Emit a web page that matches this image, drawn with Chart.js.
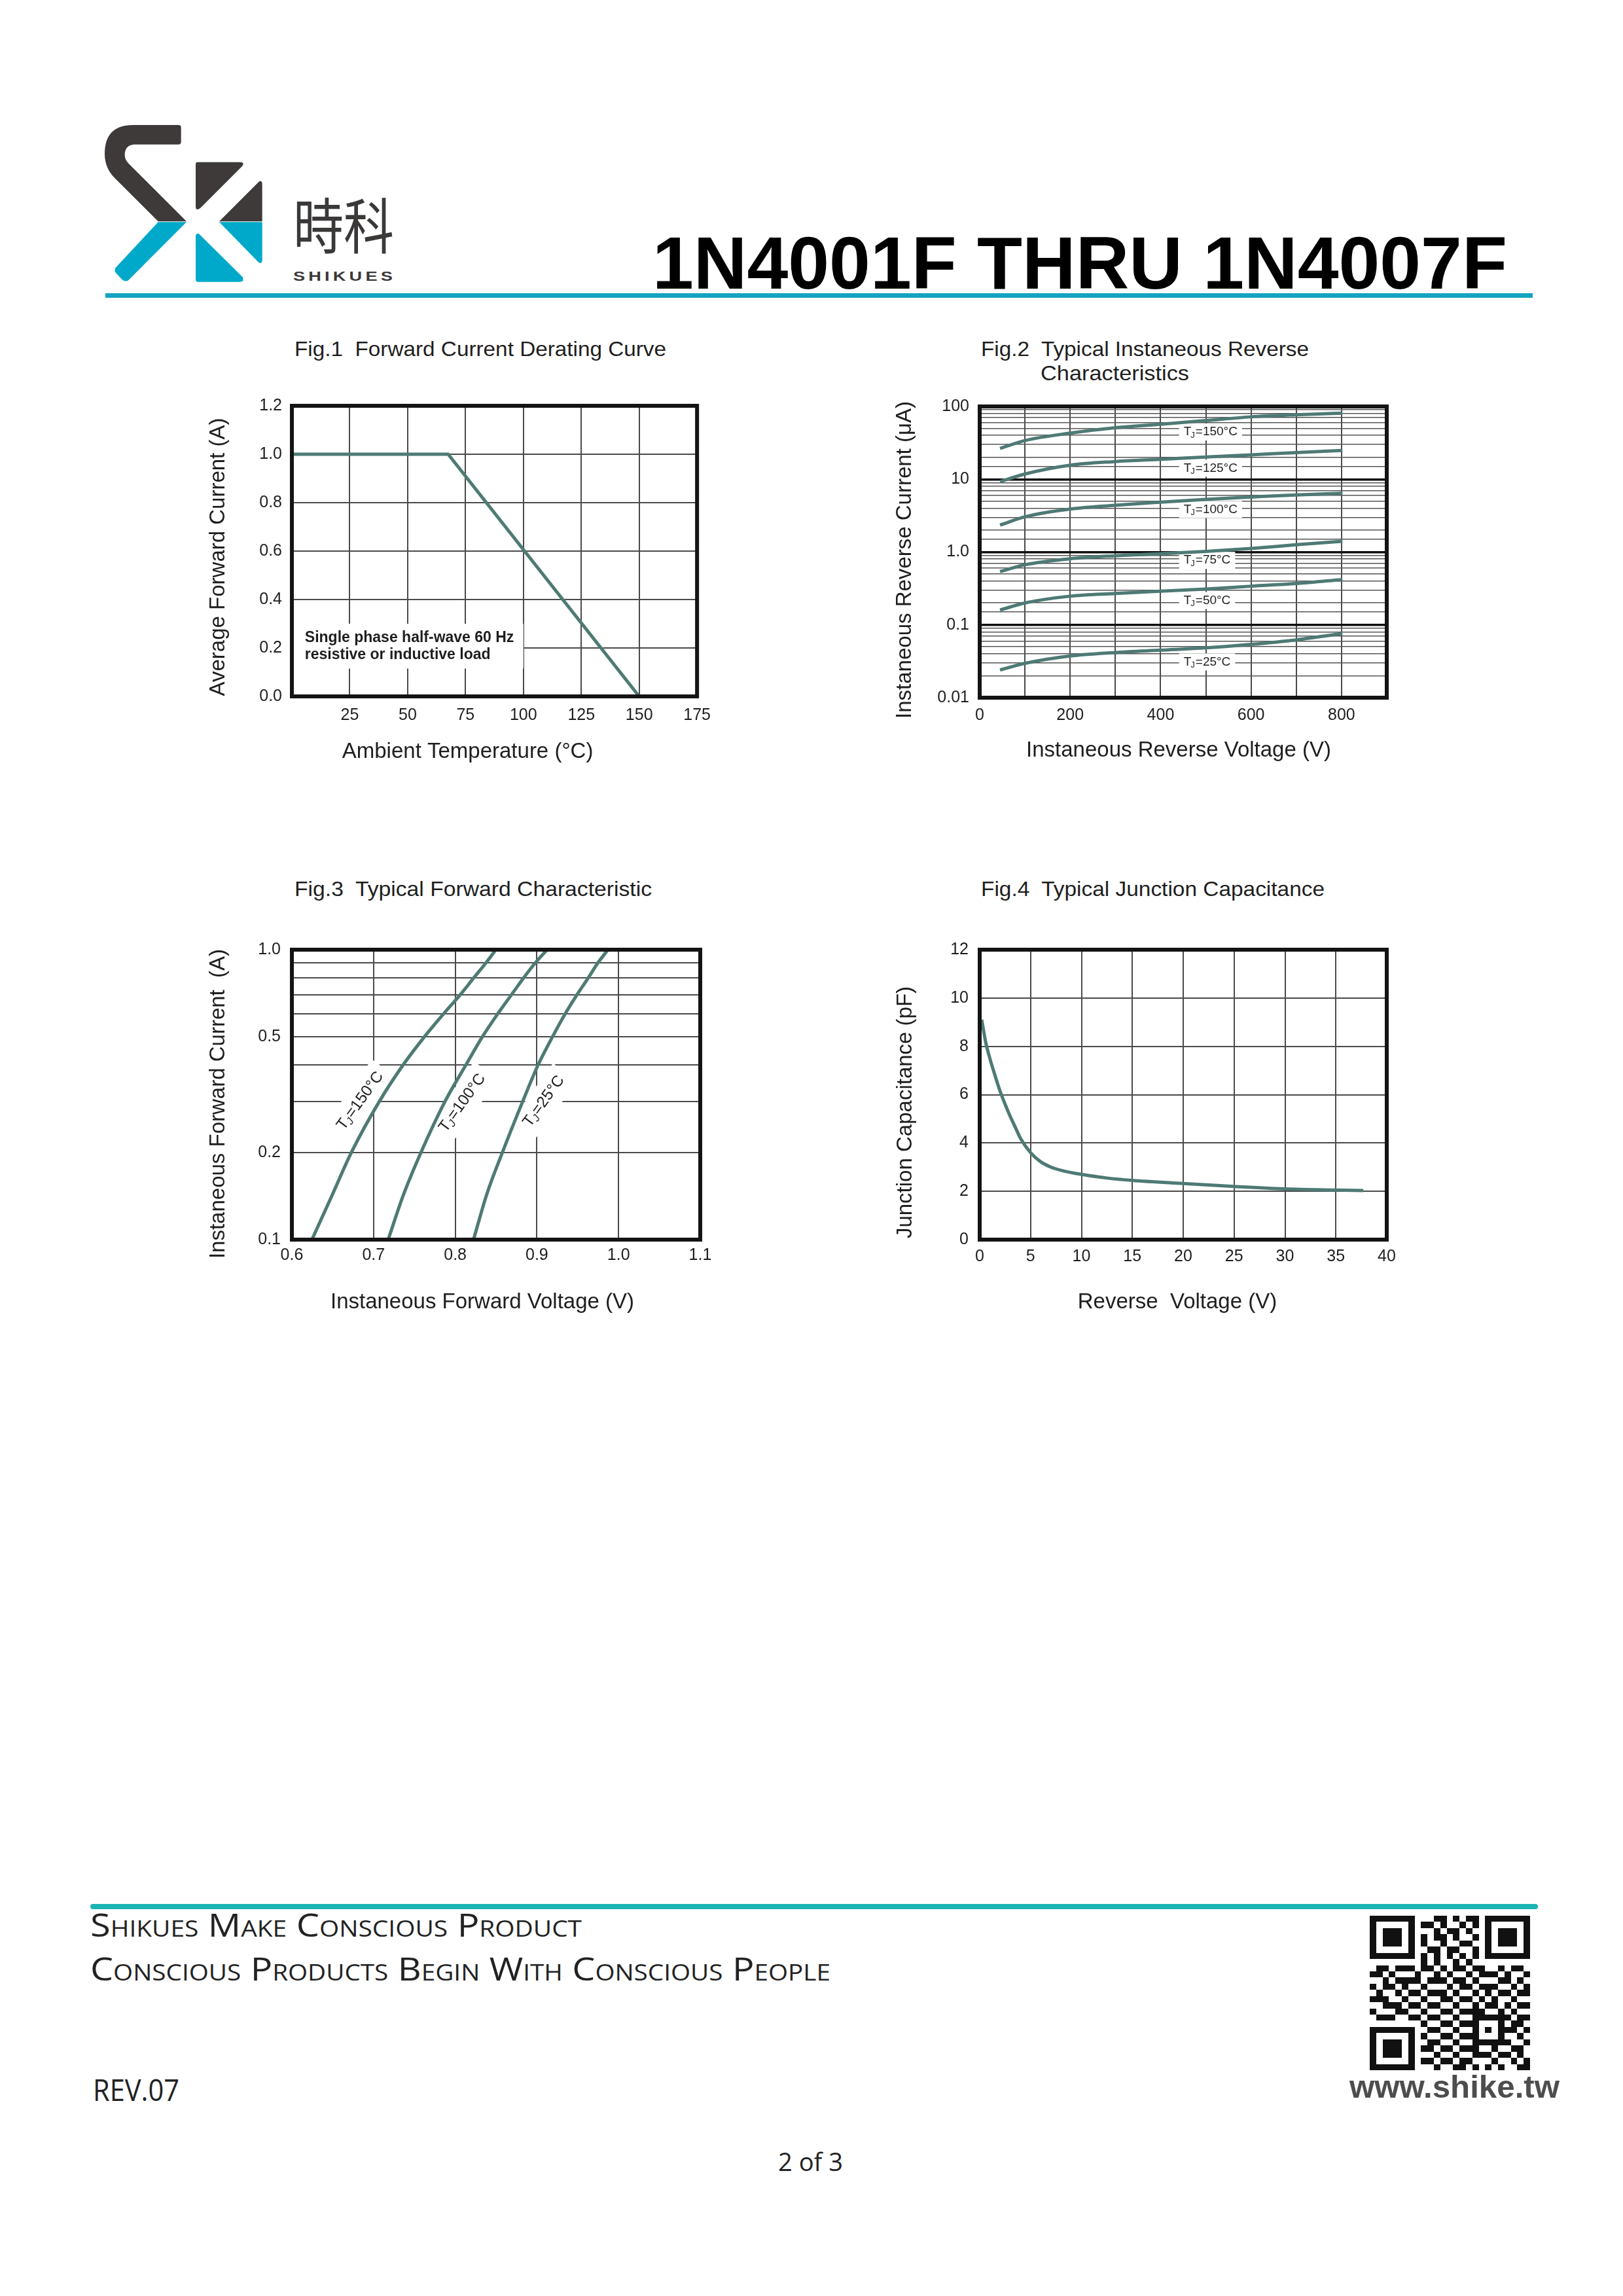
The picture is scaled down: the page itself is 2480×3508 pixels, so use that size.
<!DOCTYPE html>
<html>
<head>
<meta charset="utf-8">
<title>1N4001F THRU 1N4007F</title>
<script src="https://cdn.jsdelivr.net/npm/chart.js@4.4.1/dist/chart.umd.min.js"></script>
<style>
  html, body { margin: 0; padding: 0; background: #fff; }
  body { width: 2480px; height: 3508px; position: relative; overflow: hidden;
         font-family: 'Liberation Sans', Arial, sans-serif; color: #1e1e1e; }
  .txt { position: absolute; white-space: pre; line-height: 1; transform-origin: 0 0; }
  .rule { position: absolute; }
  canvas { position: absolute; }
  .ftxt { font-family: 'Open Sans', sans-serif; font-variant: small-caps; color: #222; }
</style>
</head>
<body>

<!-- header -->
<svg style="position:absolute;left:150px;top:180px" width="480" height="260" viewBox="0 0 1440 780">
  <path fill="#3e3a3a" d="M160 33 L368 33 Q380 33 380 45 L380 110 Q380 122 368 122 L165 122 Q125 125 122 165 Q120 190 140 210 L405 475 L275 475 L75 275 Q30 230 30 165 Q30 33 160 33 Z"/>
  <path fill="#00a9ca" d="M275 478 L405 478 L140 743 Q125 755 110 742 L82 712 Q70 698 82 685 Z"/>
  <path fill="#3e3a3a" d="M455 203 L655 203 Q672 206 660 222 L468 414 Q447 430 447 405 L447 212 Q447 203 455 203 Z"/>
  <path fill="#3e3a3a" d="M745 290 Q752 292 752 305 L752 475 L555 475 L735 295 Q740 289 745 290 Z"/>
  <path fill="#00a9ca" d="M555 478 L752 478 L752 655 Q750 672 735 662 Z"/>
  <path fill="#00a9ca" d="M462 532 L662 730 Q672 752 650 752 L458 752 Q447 752 447 740 L447 545 Q448 525 462 532 Z"/>
</svg>
<div class="txt" data-w="154" style="left:448px;top:273px;font:400 92px 'Noto Sans CJK SC';color:#3b3838">時科</div>
<div class="txt" data-w="157" style="left:448px;top:410px;font:700 21px 'Liberation Sans';letter-spacing:4px;color:#3b3838">SHIKUES</div>
<div class="txt" data-w="1306" style="left:997px;top:337px;font:700 113px 'Liberation Sans';color:#000">1N4001F THRU 1N4007F</div>
<div class="rule" style="left:161px;top:448px;width:2181px;height:7px;background:#14a3c2"></div>

<!-- figure titles -->
<div class="txt" data-w="568" style="left:450px;top:517px;font-size:32px">Fig.1  Forward Current Derating Curve</div>
<div class="txt" data-w="501" style="left:1499px;top:517px;font-size:32px">Fig.2  Typical Instaneous Reverse</div>
<div class="txt" data-w="227" style="left:1590px;top:554px;font-size:32px">Characteristics</div>
<div class="txt" data-w="546" style="left:450px;top:1342px;font-size:32px">Fig.3  Typical Forward Characteristic</div>
<div class="txt" data-w="525" style="left:1499px;top:1342px;font-size:32px">Fig.4  Typical Junction Capacitance</div>

<canvas id="fig1" width="800" height="620" style="left:300px;top:590px"></canvas>
<canvas id="fig2" width="800" height="620" style="left:1350px;top:590px"></canvas>
<canvas id="fig3" width="800" height="620" style="left:300px;top:1419px"></canvas>
<canvas id="fig4" width="800" height="620" style="left:1350px;top:1419px"></canvas>

<!-- footer -->
<div class="rule" style="left:138px;top:2909px;width:2212px;height:8px;background:#1bb3b3;border-radius:4px"></div>
<div class="txt ftxt" data-w="751" style="left:138px;top:2916px;font-size:49px">Shikues Make Conscious Product</div>
<div class="txt ftxt" data-w="1131" style="left:138px;top:2983px;font-size:49px">Conscious Products Begin With Conscious People</div>
<div class="txt" data-w="132" style="left:142px;top:3162px;font:400 45px 'Open Sans';color:#222">REV.07</div>
<div class="txt" data-w="99" style="left:1189px;top:3275px;font:400 39px 'Open Sans';color:#222">2 of 3</div>
<canvas id="qr" width="245" height="236" style="left:2093px;top:2927px"></canvas>
<div class="txt" data-w="321" style="left:2062px;top:3161px;font:700 48px 'Liberation Sans';color:#4d4d4d">www.shike.tw</div>

<script>
// ---------- Fig.1 Forward Current Derating Curve ----------
const deratingTemp = [0, 67.5, 150];
const deratingCurrent = [1.0, 1.0, 0.0];
const fig1XTicks = [0, 25, 50, 75, 100, 125, 150, 175];
const fig1XLabels = ['', '25', '50', '75', '100', '125', '150', '175'];
const fig1YTicks = [0, 0.2, 0.4, 0.6, 0.8, 1.0, 1.2];
const fig1YLabels = ['0.0', '0.2', '0.4', '0.6', '0.8', '1.0', '1.2'];

// ---------- Fig.2 Typical Instaneous Reverse Characteristics ----------
const reverseVoltage = [45, 100, 200, 300, 400, 500, 600, 700, 802];
const ir150 = [26.5, 34, 43, 51, 57, 64, 72, 77, 81];
const ir125 = [9.3, 11.8, 15.6, 17.5, 18.8, 20.2, 21.6, 23.3, 24.8];
const ir100 = [2.35, 3.05, 3.9, 4.4, 4.85, 5.3, 5.7, 6.1, 6.4];
const ir75 = [0.54, 0.67, 0.81, 0.89, 0.95, 1.02, 1.12, 1.26, 1.41];
const ir50 = [0.16, 0.20, 0.248, 0.27, 0.29, 0.31, 0.34, 0.37, 0.42];
const ir25 = [0.024, 0.0296, 0.0374, 0.0418, 0.045, 0.0484, 0.054, 0.0622, 0.076];
const reverseTemps = ['150', '125', '100', '75', '50', '25'];
const fig2XTicks = [0, 100, 200, 300, 400, 500, 600, 700, 800, 900];
const fig2XLabels = ['0', '', '200', '', '400', '', '600', '', '800', ''];
const fig2YMajor = [0.01, 0.1, 1, 10, 100];
const fig2YLabels = ['0.01', '0.1', '1.0', '10', '100'];

// ---------- Fig.3 Typical Forward Characteristic ----------
const forwardCurrent = [0.1, 0.143, 0.2, 0.3, 0.4, 0.5, 0.6, 0.7, 0.8, 0.9, 1.0];
const vf150 = [0.6246, 0.6496, 0.6729, 0.7072, 0.7361, 0.7621, 0.7855, 0.8063, 0.8228, 0.8376, 0.8498];
const vf100 = [0.7179, 0.7367, 0.7581, 0.7876, 0.813, 0.8331, 0.8519, 0.869, 0.8838, 0.898, 0.9125];
const vf25 = [0.8224, 0.8385, 0.8578, 0.8827, 0.9014, 0.919, 0.9345, 0.9492, 0.963, 0.9746, 0.9871];
const forwardTemps = ['150', '100', '25'];
const fig3XTicks = [0.6, 0.7, 0.8, 0.9, 1.0, 1.1];
const fig3XLabels = ['0.6', '0.7', '0.8', '0.9', '1.0', '1.1'];
const fig3YTicks = [0.1, 0.2, 0.3, 0.4, 0.5, 0.6, 0.7, 0.8, 0.9, 1.0];
const fig3YLabels = ['0.1', '0.2', '', '', '0.5', '', '', '', '', '1.0'];

// ---------- Fig.4 Typical Junction Capacitance ----------
const capVoltage = [0.2, 0.6, 1.0, 1.5, 2, 2.5, 3, 3.5, 4, 5, 6, 7, 8, 10, 12.5, 15, 20, 25, 30, 35, 37.7];
const capValue = [9.1, 8.15, 7.5, 6.8, 6.15, 5.6, 5.1, 4.65, 4.2, 3.6, 3.22, 3.0, 2.87, 2.7, 2.55, 2.45, 2.32, 2.2, 2.1, 2.05, 2.03];
const fig4XTicks = [0, 5, 10, 15, 20, 25, 30, 35, 40];
const fig4XLabels = ['0', '5', '10', '15', '20', '25', '30', '35', '40'];
const fig4YTicks = [0, 2, 4, 6, 8, 10, 12];
const fig4YLabels = ['0', '2', '4', '6', '8', '10', '12'];

// ---------- styling ----------
const INK = '#1e1e1e';
const GRID = '#4a4a4a';
const CURVE = '#4e7a74';
const FONT = "'Liberation Sans', Arial, sans-serif";
Chart.defaults.font.family = FONT;
Chart.defaults.color = INK;

const pts = (xs, ys) => xs.map((x, i) => ({ x, y: ys[i] }));
const curve = (data, smooth) => ({
  data, showLine: true, borderColor: CURVE, borderWidth: 5, pointRadius: 0,
  tension: 0, cubicInterpolationMode: smooth ? 'monotone' : 'default', fill: false
});
const sameValue = (a, b) => Math.abs(a / b - 1) < 1e-6;
const logLabel = (major, labels) => v => {
  const i = major.findIndex(m => sameValue(v, m));
  return i < 0 ? '' : labels[i];
};

function axis(o) {
  return {
    type: o.type || 'linear',
    min: o.min, max: o.max,
    afterFit: s => { if (s.isHorizontal()) s.height = o.size; else s.width = o.size; },
    afterBuildTicks: o.ticks ? s => { s.ticks = o.ticks.map(v => ({ value: v })); } : undefined,
    ticks: { autoSkip: false, maxRotation: 0, minRotation: 0, padding: o.pad,
             font: { size: 25 }, color: INK, callback: o.label },
    grid: { drawTicks: false, color: o.gridColor || GRID, lineWidth: o.gridWidth || 2 },
    border: { display: false },
    title: { display: false }
  };
}

// black plot frame
const frame = {
  id: 'frame',
  afterDatasetsDraw(chart) {
    const { ctx, chartArea: a } = chart;
    ctx.save();
    ctx.strokeStyle = '#141414';
    ctx.lineWidth = 6;
    ctx.strokeRect(a.left, a.top, a.right - a.left, a.bottom - a.top);
    ctx.restore();
  }
};

// axis titles, placed as in the datasheet (slightly off centre)
const axisTitles = {
  id: 'axisTitles',
  afterDraw(chart, args, opts) {
    const { ctx, chartArea: a } = chart;
    ctx.save();
    ctx.font = `33px ${FONT}`;
    ctx.fillStyle = INK;
    ctx.textAlign = 'center';
    ctx.textBaseline = 'middle';
    ctx.fillText(opts.x.text, (a.left + a.right) / 2 + opts.x.dx, opts.x.y);
    ctx.translate(opts.y.x, (a.top + a.bottom) / 2 + opts.y.dy);
    ctx.rotate(-Math.PI / 2);
    ctx.fillText(opts.y.text, 0, 0);
    ctx.restore();
  }
};

// "T" with subscript J, then "=xx°C"; returns width
function tjLabel(ctx, temp, size, italicJ, draw, x, y) {
  const main = `${size}px ${FONT}`;
  const sub = `${italicJ ? 'italic ' : ''}${Math.round(size * 0.68)}px ${FONT}`;
  ctx.font = main;
  const wT = ctx.measureText('T').width;
  const rest = '=' + temp + '°C';
  const wR = ctx.measureText(rest).width;
  ctx.font = sub;
  const wJ = ctx.measureText('J').width;
  const total = wT + wJ + wR;
  if (draw) {
    ctx.textBaseline = 'middle';
    ctx.textAlign = 'left';
    ctx.font = main;
    ctx.fillText('T', x, y);
    ctx.font = sub;
    ctx.fillText('J', x + wT - 1, y + size * 0.26);
    ctx.font = main;
    ctx.fillText(rest, x + wT + wJ, y);
  }
  return total;
}

function makeChart(id, datasets, x, y, plugins, extra) {
  return new Chart(document.getElementById(id), {
    type: 'scatter',
    data: { datasets },
    options: {
      responsive: false,
      animation: false,
      layout: { padding: extra.padding },
      plugins: { legend: { display: false }, tooltip: { enabled: false }, axisTitles: extra.titles },
      scales: { x, y }
    },
    plugins: [frame, axisTitles].concat(plugins)
  });
}

// ---------- Fig.1 ----------
const fig1Note = {
  id: 'note',
  beforeDatasetsDraw(chart) {
    const { ctx, scales: { x, y } } = chart;
    ctx.save();
    ctx.fillStyle = '#fff';
    const l = x.getPixelForValue(0), r = x.getPixelForValue(100);
    const t = y.getPixelForValue(0.30), b = y.getPixelForValue(0.115);
    ctx.fillRect(l, t, r - l, b - t);
    ctx.fillStyle = INK;
    ctx.font = `bold 23px ${FONT}`;
    ctx.textBaseline = 'middle';
    ctx.fillText('Single phase half-wave 60 Hz', x.getPixelForValue(5.6), y.getPixelForValue(0.241));
    ctx.fillText('resistive or inductive load', x.getPixelForValue(5.6), y.getPixelForValue(0.171));
    ctx.restore();
  }
};
makeChart('fig1',
  [curve(pts(deratingTemp, deratingCurrent), false)],
  axis({ min: 0, max: 175, ticks: fig1XTicks, label: (v, i) => fig1XLabels[i], size: 146, pad: 14 }),
  axis({ min: 0, max: 1.2, ticks: fig1YTicks, label: (v, i) => fig1YLabels[i], size: 146, pad: 15 }),
  [fig1Note],
  { padding: { left: 0, top: 28, right: 30, bottom: 0 },
    titles: { x: { text: 'Ambient Temperature (°C)', dx: -41, y: 559 },
              y: { text: 'Average Forward Current (A)', x: 34, dy: 9 } } });

// ---------- Fig.2 ----------
const fig2LabelX = 451;
const fig2LabelY = [44.6, 14.2, 3.85, 0.77, 0.216, 0.031];
const fig2Labels = {
  id: 'tjLabels',
  beforeDatasetsDraw(chart) {
    const { ctx, scales: { x, y } } = chart;
    ctx.save();
    reverseTemps.forEach((t, i) => {
      const px = x.getPixelForValue(fig2LabelX), py = y.getPixelForValue(fig2LabelY[i]);
      const w = tjLabel(ctx, t, 19, false, false);
      ctx.fillStyle = '#fff';
      ctx.fillRect(px - 7, py - 13, w + 14, 26);
      ctx.fillStyle = INK;
      tjLabel(ctx, t, 19, false, true, px, py);
    });
    ctx.restore();
  }
};
const irSeries = [ir150, ir125, ir100, ir75, ir50, ir25];
const isDecade = c => c.tick && fig2YMajor.some(m => sameValue(c.tick.value, m));
makeChart('fig2',
  irSeries.map(s => curve(pts(reverseVoltage, s), true)),
  axis({ min: 0, max: 900, ticks: fig2XTicks, label: (v, i) => fig2XLabels[i], size: 144, pad: 12 }),
  axis({ type: 'logarithmic', min: 0.01, max: 100, label: logLabel(fig2YMajor, fig2YLabels), size: 147, pad: 16,
         gridColor: c => isDecade(c) ? '#111' : '#555',
         gridWidth: c => isDecade(c) ? 3.5 : 1.6 }),
  [fig2Labels],
  { padding: { left: 0, top: 28, right: 31, bottom: 0 },
    titles: { x: { text: 'Instaneous Reverse Voltage (V)', dx: -7, y: 557 },
              y: { text: 'Instaneous Reverse Current (μA)', x: 33, dy: 12 } } });

// ---------- Fig.3 ----------
const fig3LabelPos = [[0.6838, 0.301], [0.8088, 0.296], [0.9086, 0.300]];
const fig3Labels = {
  id: 'tjRotated',
  beforeDatasetsDraw(chart) {
    const { ctx, scales: { x, y } } = chart;
    ctx.save();
    forwardTemps.forEach((t, i) => {
      const px = x.getPixelForValue(fig3LabelPos[i][0]), py = y.getPixelForValue(fig3LabelPos[i][1]);
      const w = tjLabel(ctx, t, 24, true, false);
      ctx.save();
      ctx.translate(px, py);
      ctx.rotate(-54 * Math.PI / 180);
      ctx.fillStyle = '#fff';
      ctx.fillRect(-w / 2 - 10, -23, w + 20, 46);
      ctx.fillStyle = INK;
      tjLabel(ctx, t, 24, true, true, -w / 2, 0);
      ctx.restore();
    });
    ctx.restore();
  }
};
makeChart('fig3',
  [vf150, vf100, vf25].map(s => curve(pts(s, forwardCurrent), true)),
  axis({ min: 0.6, max: 1.1, ticks: fig3XTicks, label: (v, i) => fig3XLabels[i], size: 145, pad: 9 }),
  axis({ type: 'logarithmic', min: 0.1, max: 1.0, ticks: fig3YTicks, label: (v, i) => fig3YLabels[i], size: 146, pad: 17 }),
  [fig3Labels],
  { padding: { left: 0, top: 28, right: 30, bottom: 0 },
    titles: { x: { text: 'Instaneous Forward Voltage (V)', dx: -21, y: 571 },
              y: { text: 'Instaneous Forward Current  (A)', x: 34, dy: 14 } } });

// ---------- Fig.4 ----------
makeChart('fig4',
  [curve(pts(capVoltage, capValue), true)],
  axis({ min: 0, max: 40, ticks: fig4XTicks, label: (v, i) => fig4XLabels[i], size: 145, pad: 11 }),
  axis({ min: 0, max: 12, ticks: fig4YTicks, label: (v, i) => fig4YLabels[i], size: 147, pad: 17 }),
  [],
  { padding: { left: 0, top: 28, right: 31, bottom: 0 },
    titles: { x: { text: 'Reverse  Voltage (V)', dx: -9, y: 571 },
              y: { text: 'Junction Capacitance (pF)', x: 34, dy: 27 } } });

// ---------- QR mark ----------
const qrRows = [
  '0010110100110101100101101', '1101001011010010111010010', '0110101100101101001011001',
  '1011010010110100110100110', '0100111010010011011010101', '1110010101101100100101010',
  '0011101001011010110010111', '1001010110100101001101000', '0110110011010110110010110',
  '1101001100101001011101001', '0010110101110110100011010', '1011011010001011011100101',
  '0100100101110100101011011', '1110011010011011010100100', '0011100101100100101101011',
  '1000111010011011110010100', '0111000101100100001101011', '1100110010011011110010110',
  '0011001101100100011001101', '1010110010011011100110010', '0101001101100100011011001',
  '1010110011011011100100110', '0101101100100100111011010', '1010010011011011000100101',
  '0110101100100110101010011'
];
(function drawQr() {
  const cv = document.getElementById('qr');
  const c = cv.getContext('2d');
  const n = qrRows.length;
  const m = qrRows.map(r => r.split('').map(Number));
  const finder = (r0, c0) => {
    for (let r = -1; r <= 7; r++) for (let k = -1; k <= 7; k++) {
      const rr = r0 + r, cc = c0 + k;
      if (rr < 0 || cc < 0 || rr >= n || cc >= n) continue;
      const ring = Math.max(Math.abs(r - 3), Math.abs(k - 3));
      m[rr][cc] = (ring === 4 || ring === 2) ? 0 : 1;
    }
  };
  finder(0, 0); finder(0, n - 7); finder(n - 7, 0);
  for (let i = 8; i < n - 8; i++) { m[6][i] = i % 2 === 0 ? 1 : 0; m[i][6] = i % 2 === 0 ? 1 : 0; }
  for (let r = -2; r <= 2; r++) for (let k = -2; k <= 2; k++) {
    m[18 + r][18 + k] = Math.max(Math.abs(r), Math.abs(k)) === 1 ? 0 : 1;
  }
  const mw = cv.width / n, mh = cv.height / n;
  c.fillStyle = '#111';
  for (let r = 0; r < n; r++) for (let k = 0; k < n; k++) {
    if (!m[r][k]) continue;
    const x0 = Math.round(k * mw), y0 = Math.round(r * mh);
    c.fillRect(x0, y0, Math.round((k + 1) * mw) - x0, Math.round((r + 1) * mh) - y0);
  }
})();

// ---------- fit text widths ----------
document.querySelectorAll('[data-w]').forEach(el => {
  const w = el.getBoundingClientRect().width;
  el.style.transform = `scaleX(${(+el.dataset.w / w).toFixed(4)})`;
});
</script>
</body>
</html>
